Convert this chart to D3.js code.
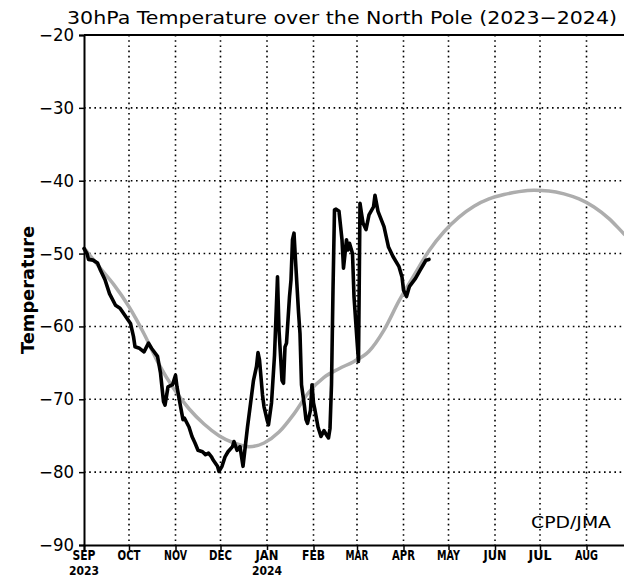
<!DOCTYPE html>
<html><head><meta charset="utf-8">
<script src="https://cdn.jsdelivr.net/npm/d3@7"></script>
<style>body{margin:0;background:#fff;overflow:hidden}</style>
</head><body><svg id="c" width="624" height="578"></svg>
<script>
const monthLabels = ["SEP","OCT","NOV","DEC","JAN","FEB","MAR","APR","MAY","JUN","JUL","AUG"];
const yearLabels = ["2023","","","","2024","","","","","","",""];
const yTicks = [-20,-30,-40,-50,-60,-70,-80,-90];
const titleText = "30hPa Temperature over the North Pole (2023\u22122024)";

// climatology: day offset from 2023-09-01, temperature
const climDays  = [0,10,20,30,40,50,60,70,80,90,100,110,120,130,140,150,160,170,180,190,200,210,220,230,240,250,260,270,280,290,300,310,320,330,340,350,360,366];
const climTemps = [-49.2,-51.8,-54.3,-57.3,-61.0,-65.2,-68.6,-71.3,-73.4,-75.0,-76.0,-76.5,-76.0,-74.5,-72.0,-69.0,-67.0,-65.8,-64.8,-63.4,-60.5,-56.5,-53.0,-49.6,-47.0,-45.0,-43.5,-42.5,-41.9,-41.5,-41.3,-41.4,-41.8,-42.5,-43.6,-45.2,-47.3,-48.5];

// observed 2023-2024
const obsDays  = [0,2,3,6,9,11,14,17,21,24,27,31,33,34,37,40,43,45,49,51,53,54,56,59,61,62,64,66,67,70,72,74,76,79,81,83,85,86,89,90,92,94,96,99,100,102,104,106,107,109,111,113,115,116,117,119,120,122,123,125,127,129,130,132,133,134,135,136,137,138,139,140,141,143,144,145,147,148,149,151,152,153,154,156,158,160,162,163,164,165,166,167,168,170,172,173,175,176,177,179,180,182,183,184,185,186,188,190,193,194,196,200,203,206,210,212,213,215,217,221,224,226,228,230];
const obsTemps = [-49.3,-50.0,-50.8,-50.9,-51.3,-52.3,-53.6,-55.5,-57.1,-57.5,-58.4,-59.6,-61.4,-62.8,-63.0,-63.5,-62.3,-63.0,-64.1,-66.4,-70.3,-70.8,-68.3,-68.0,-66.7,-68.3,-70.6,-72.8,-72.6,-73.8,-75.1,-76.0,-77.0,-77.2,-77.6,-77.4,-77.9,-78.3,-79.2,-79.9,-79.2,-77.9,-77.2,-76.5,-75.8,-77.0,-76.5,-79.2,-77.4,-73.8,-70.6,-67.4,-65.5,-63.6,-64.6,-69.4,-71.0,-72.8,-73.5,-70.5,-64.0,-53.2,-60.5,-67.4,-67.8,-62.8,-62.3,-59.1,-55.9,-53.6,-48.1,-47.2,-50.9,-58.0,-61.0,-68.0,-71.0,-72.8,-73.3,-71.5,-68.0,-70.5,-71.5,-73.8,-75.1,-74.3,-75.0,-75.3,-74.0,-68.0,-55.0,-44.0,-43.9,-44.2,-48.1,-52.0,-48.1,-49.5,-48.6,-50.0,-55.9,-61.9,-64.8,-43.1,-44.5,-45.8,-46.7,-44.7,-43.6,-42.0,-44.2,-46.3,-49.1,-50.4,-51.8,-53.2,-55.0,-55.9,-54.5,-53.4,-52.3,-51.6,-50.9,-50.8];

const start = new Date(Date.UTC(2023,8,1));
const end = new Date(Date.UTC(2024,8,1));
const day = d => d3.utcDay.offset(start, d);
const monthDates = d3.utcMonths(start, end);

const svg = d3.select("#c");
const x = d3.scaleUtc().domain([start, end]).range([84, 633]);
const y = d3.scaleLinear().domain([-90, -20]).range([545, 35]);

// grid
const gridColor = "#000";
svg.append("g").selectAll("line").data(monthDates.slice(1)).join("line")
  .attr("x1", d => x(d)).attr("x2", d => x(d)).attr("y1", y(-20)).attr("y2", y(-90))
  .attr("stroke", gridColor).attr("stroke-width", 1.6).attr("stroke-dasharray", "1.6 3.6");
svg.append("g").selectAll("line").data(yTicks.filter(t => t > -90 && t < -20)).join("line")
  .attr("x1", x(start)).attr("x2", 633).attr("y1", d => y(d)).attr("y2", d => y(d))
  .attr("stroke", gridColor).attr("stroke-width", 1.6).attr("stroke-dasharray", "1.6 3.6");

// top border
svg.append("line").attr("x1", x(start)).attr("x2", 633).attr("y1", y(-20)).attr("y2", y(-20))
  .attr("stroke", "#000").attr("stroke-width", 2);

// lines
const clim = climDays.map((d, i) => [day(d), climTemps[i]]);
const obs = obsDays.map((d, i) => [day(d), obsTemps[i]]);
svg.append("path").datum(clim)
  .attr("d", d3.line().x(d => x(d[0])).y(d => y(d[1])).curve(d3.curveMonotoneX))
  .attr("fill", "none").attr("stroke", "#adadad").attr("stroke-width", 3.5);
svg.append("path").datum(obs)
  .attr("d", d3.line().x(d => x(d[0])).y(d => y(d[1])))
  .attr("fill", "none").attr("stroke", "#000").attr("stroke-width", 3.6)
  .attr("stroke-linejoin", "round").attr("stroke-linecap", "round");

// axes
const font = "'DejaVu Sans', sans-serif";
const yAxis = svg.append("g").attr("transform", `translate(${x(start)},0)`)
  .call(d3.axisLeft(y).tickValues(yTicks).tickSize(5).tickPadding(5)
    .tickFormat(d => "\u2212" + Math.abs(d)));
yAxis.select(".domain").attr("stroke-width", 2);
yAxis.selectAll(".tick line").attr("stroke-width", 1.5);
yAxis.selectAll("text").attr("font-family", font).attr("font-size", 17).attr("fill", "#000")
  .attr("textLength", 35).attr("lengthAdjust", "spacingAndGlyphs");

const xAxis = svg.append("g").attr("transform", `translate(0,${y(-90)})`)
  .call(d3.axisBottom(x).tickValues(monthDates).tickSize(5).tickFormat(""));
xAxis.select(".domain").attr("stroke-width", 2);
xAxis.selectAll(".tick line").attr("stroke-width", 1.5);

svg.append("g").selectAll("text").data(monthDates).join("text")
  .attr("x", d => x(d)).attr("y", 560).attr("text-anchor", "middle")
  .attr("font-family", font).attr("font-size", 13.5).attr("font-weight", "bold")
  .attr("textLength", 23).attr("lengthAdjust", "spacingAndGlyphs")
  .text((d, i) => monthLabels[i]);
svg.append("g").selectAll("text").data(monthDates.filter((d, i) => yearLabels[i])).join("text")
  .attr("x", d => x(d)).attr("y", 575).attr("text-anchor", "middle")
  .attr("font-family", font).attr("font-size", 12).attr("font-weight", "bold")
  .attr("textLength", 30).attr("lengthAdjust", "spacingAndGlyphs")
  .text(d => yearLabels[monthDates.indexOf(d)]);

// title
svg.append("text").attr("x", 342).attr("y", 24).attr("text-anchor", "middle")
  .attr("font-family", font).attr("font-size", 18).attr("fill", "#000")
  .attr("textLength", 550).attr("lengthAdjust", "spacingAndGlyphs")
  .text(titleText);

// y label
svg.append("text").attr("transform", "translate(34,290) rotate(-90)").attr("text-anchor", "middle")
  .attr("font-family", font).attr("font-size", 17).attr("font-weight", "bold")
  .attr("textLength", 128).attr("lengthAdjust", "spacingAndGlyphs")
  .text("Temperature");

// credit
svg.append("text").attr("x", 571).attr("y", 528).attr("text-anchor", "middle")
  .attr("font-family", font).attr("font-size", 15)
  .attr("textLength", 80).attr("lengthAdjust", "spacingAndGlyphs")
  .text("CPD/JMA");
</script></body></html>
